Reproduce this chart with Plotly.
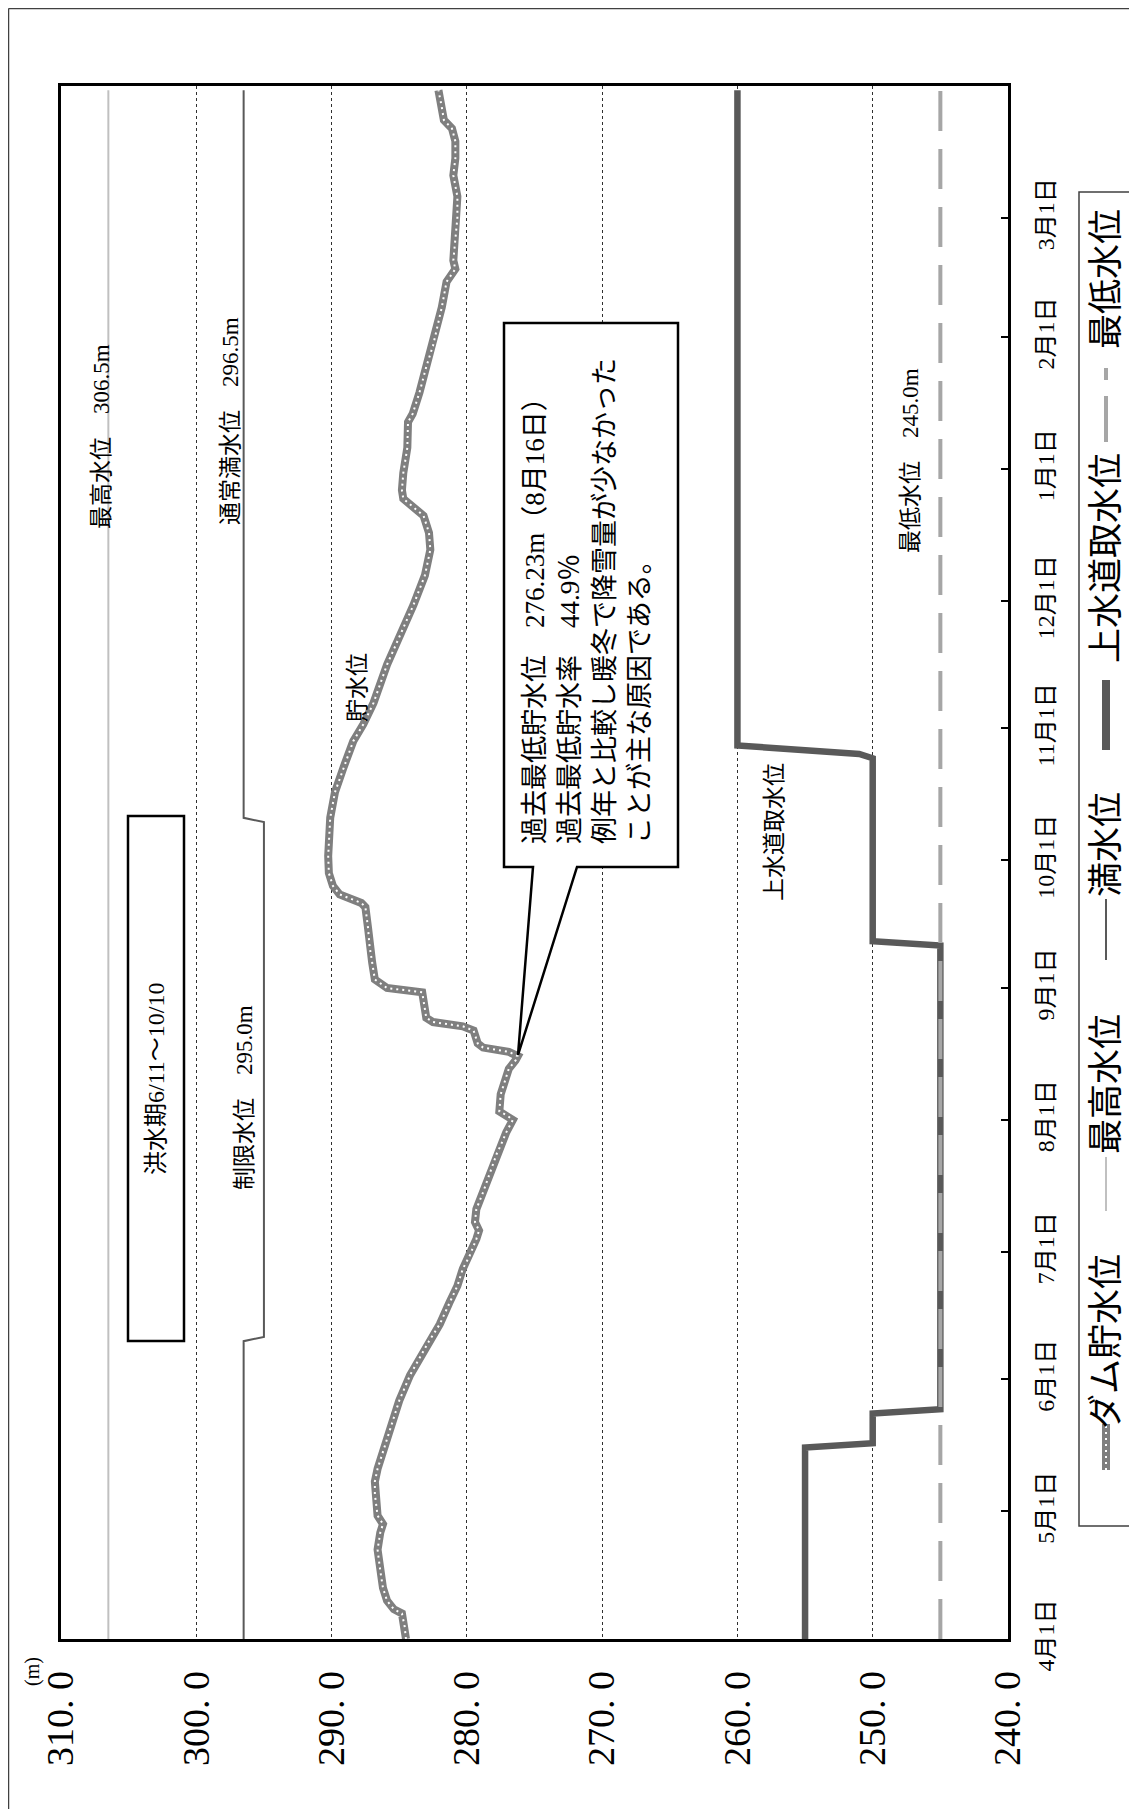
import plotly.graph_objects as go

# ---------------- data ----------------
storage_dates = [
    "2016-04-01", "2016-04-04", "2016-04-07", "2016-04-08", "2016-04-10", "2016-04-13", "2016-04-17",
    "2016-04-22", "2016-04-26", "2016-04-28", "2016-04-30", "2016-05-05", "2016-05-08", "2016-05-11",
    "2016-05-16", "2016-05-21", "2016-05-27", "2016-06-02", "2016-06-06", "2016-06-10", "2016-06-14",
    "2016-06-19", "2016-06-23", "2016-06-27", "2016-06-30", "2016-07-04", "2016-07-06", "2016-07-08",
    "2016-07-11", "2016-07-15", "2016-07-18", "2016-07-21", "2016-07-24", "2016-07-26", "2016-07-29",
    "2016-08-01", "2016-08-02", "2016-08-03", "2016-08-07", "2016-08-10", "2016-08-13", "2016-08-15",
    "2016-08-16", "2016-08-17", "2016-08-18", "2016-08-19", "2016-08-22", "2016-08-23", "2016-08-24",
    "2016-08-25", "2016-08-29", "2016-08-31", "2016-09-01", "2016-09-03", "2016-09-07", "2016-09-11",
    "2016-09-15", "2016-09-20", "2016-09-21", "2016-09-23", "2016-09-25", "2016-09-28", "2016-10-02",
    "2016-10-11", "2016-10-17", "2016-10-23", "2016-10-29", "2016-11-02", "2016-11-07", "2016-11-16",
    "2016-11-23", "2016-11-30", "2016-12-07", "2016-12-13", "2016-12-17", "2016-12-21", "2016-12-25",
    "2016-12-27", "2016-12-31", "2017-01-06", "2017-01-12", "2017-01-14", "2017-01-19", "2017-01-25",
    "2017-01-30", "2017-02-03", "2017-02-08", "2017-02-14", "2017-02-17", "2017-02-19", "2017-02-25",
    "2017-03-01", "2017-03-06", "2017-03-11", "2017-03-15", "2017-03-19", "2017-03-22", "2017-03-24",
    "2017-03-27", "2017-03-31",
]
storage_levels = [
    284.5, 284.6, 284.8, 285.4, 285.9, 286.2, 286.4,
    286.6, 286.4, 286.2, 286.6, 286.8, 286.8, 286.6,
    286.1, 285.6, 285.0, 284.2, 283.5, 282.8, 282.0,
    281.3, 280.7, 280.3, 279.8, 279.3, 279.1, 279.4,
    279.3, 278.8, 278.45, 278.1, 277.8, 277.5, 277.1,
    276.6, 277.0, 277.6, 277.5, 277.2, 276.9, 276.4,
    276.23, 276.9, 278.8, 279.2, 279.5, 280.3, 282.5,
    283.0, 283.2, 283.3, 285.9, 286.8, 287.0, 287.2,
    287.3, 287.5, 287.8, 289.4, 289.9, 290.2, 290.25,
    290.1, 289.75, 289.1, 288.4, 287.65, 286.9, 285.9,
    284.9, 283.95, 283.1, 282.7, 282.8, 283.2, 284.7,
    284.8, 284.7, 284.4, 284.35, 284.0, 283.5, 283.0,
    282.5, 282.2, 281.85, 281.5, 280.85, 281.0, 280.85,
    280.7, 280.7, 281.0, 280.85, 280.85, 281.1, 281.7,
    281.85, 282.1,
]

max_dates = ["2016-04-01", "2017-03-31"]
max_levels = [306.5, 306.5]

full_dates = ["2016-04-01", "2016-06-10", "2016-06-11", "2016-10-10", "2016-10-11", "2017-03-31"]
full_levels = [296.5, 296.5, 295.0, 295.0, 296.5, 296.5]

intake_dates = ["2016-04-01", "2016-05-16", "2016-05-17", "2016-05-24", "2016-05-25",
                "2016-09-11", "2016-09-12", "2016-10-25", "2016-10-26", "2016-10-28", "2017-03-31"]
intake_levels = [255, 255, 250, 250, 245, 245, 250, 250, 251, 260, 260]

min_dates = ["2016-04-01", "2017-03-31"]
min_levels = [245.0, 245.0]

level_ticks = [310, 300, 290, 280, 270, 260, 250, 240]
level_labels = ["310. 0", "300. 0", "290. 0", "280. 0", "270. 0", "260. 0", "250. 0", "240. 0"]

month_ticks = ["2016-04-01", "2016-05-01", "2016-06-01", "2016-07-01", "2016-08-01", "2016-09-01",
               "2016-10-01", "2016-11-01", "2016-12-01", "2017-01-01", "2017-02-01", "2017-03-01"]
month_labels = ["4月1日", "5月1日", "6月1日", "7月1日", "8月1日", "9月1日",
                "10月1日", "11月1日", "12月1日", "1月1日", "2月1日", "3月1日"]

legend_names = ["ダム貯水位", "最高水位", "満水位", "上水道取水位", "最低水位"]

# ---------------- styles ----------------
C_STORAGE = "#7f7f7f"
C_MAX = "#c0c0c0"
C_FULL = "#595959"
C_INTAKE = "#595959"
C_MIN = "#a6a6a6"
FONT = "Liberation Serif, Noto Sans CJK JP, serif"

# page geometry (the page body adds an 8px margin around the figure)
OFF = 8
PAGE_W, PAGE_H = 1137, 1809
W, H = PAGE_W - OFF, PAGE_H - OFF
PL, PR, PT, PB = 61, 1008, 86, 1639   # plot area in page pixels


def px(X):
    return (X - PL) / (PR - PL)


def py(Y):
    return (PB - Y) / (PB - PT)


fig = go.Figure()
fig.add_trace(go.Scatter(x=storage_levels, y=storage_dates, mode="lines",
                         line=dict(color=C_STORAGE, width=8), name=legend_names[0], hoverinfo="skip"))
fig.add_trace(go.Scatter(x=storage_levels, y=storage_dates, mode="lines",
                         line=dict(color="white", width=2, dash="2px,4px"), hoverinfo="skip"))
fig.add_trace(go.Scatter(x=max_levels, y=max_dates, mode="lines",
                         line=dict(color=C_MAX, width=2), name=legend_names[1]))
fig.add_trace(go.Scatter(x=full_levels, y=full_dates, mode="lines",
                         line=dict(color=C_FULL, width=2), name=legend_names[2]))
fig.add_trace(go.Scatter(x=intake_levels, y=intake_dates, mode="lines",
                         line=dict(color=C_INTAKE, width=6.5), name=legend_names[3]))
fig.add_trace(go.Scatter(x=min_levels, y=min_dates, mode="lines",
                         line=dict(color=C_MIN, width=4, dash="40px,18px"), name=legend_names[4]))

shapes = []
annotations = []


def label(text, X, Y, size, **kw):
    d = dict(text=text, x=px(X), y=py(Y), xref="paper", yref="paper", showarrow=False,
             textangle=-90, xanchor="center", yanchor="middle",
             font=dict(family=FONT, size=size, color="black"))
    d.update(kw)
    annotations.append(d)


# outer frame
shapes.append(dict(type="line", xref="paper", yref="paper", x0=px(8.5), x1=px(PAGE_W + 20), y0=py(8.5), y1=py(8.5),
                   line=dict(color="#404040", width=1.5)))
shapes.append(dict(type="line", xref="paper", yref="paper", x0=px(8.5), x1=px(8.5), y0=py(8.5), y1=py(PAGE_H + 20),
                   line=dict(color="#404040", width=1.5)))

# flood period box
shapes.append(dict(type="rect", xref="paper", yref="paper", x0=px(128), x1=px(184), y0=py(816), y1=py(1341),
                   line=dict(color="black", width=2.5), fillcolor="white"))
label("洪水期6/11～10/10", 156, 1079, 24)

# callout
tipx, tipy = px(518), py(1055)
path = (f"M {px(504)},{py(323)} L {px(678)},{py(323)} L {px(678)},{py(867)} L {px(577)},{py(867)} "
        f"L {tipx},{tipy} L {px(533)},{py(867)} L {px(504)},{py(867)} Z")
shapes.append(dict(type="path", xref="paper", yref="paper", path=path,
                   line=dict(color="black", width=2.5), fillcolor="white"))
label("過去最低貯水位　276.23m（8月16日）<br>過去最低貯水率　44.9％<br>例年と比較し暖冬で降雪量が少なかった<br>ことが主な原因である。",
      587, 601, 27, align="left")

# line labels
for t, X, Y in [
    ("最高水位　306.5m", 101, 437),
    ("通常満水位　296.5m", 231, 421),
    ("制限水位　295.0m", 244, 1098),
    ("貯水位", 357, 688),
    ("上水道取水位", 774, 832),
    ("最低水位　245.0m", 911, 461),
]:
    label(t, X, Y, 23)

# unit
label("(m)", 33, 1672, 20)

# legend (rotated, drawn manually)
shapes.append(dict(type="rect", xref="paper", yref="paper", x0=px(1079), x1=px(1133), y0=py(192), y1=py(1526),
                   line=dict(color="#404040", width=1.5), fillcolor="white"))
LX = 1106
leg_samples = [
    (1470, 1424, C_STORAGE, 8, None),
    (1211, 1157, C_MAX, 2, None),
    (960, 899, C_FULL, 2, None),
    (750, 680, C_INTAKE, 8, None),
    (442, 362, C_MIN, 4, "46px,16px,12px,60px"),
]
for y0, y1, c, w, d in leg_samples:
    ln = dict(color=c, width=w)
    if d:
        ln["dash"] = d
    shapes.append(dict(type="line", xref="paper", yref="paper", x0=px(LX), x1=px(LX), y0=py(y0), y1=py(y1),
                       line=ln))
shapes.append(dict(type="line", xref="paper", yref="paper", x0=px(LX), x1=px(LX), y0=py(1470), y1=py(1424),
                   line=dict(color="white", width=2, dash="2px,4px")))
for name, Y in zip(legend_names, [1342, 1084, 845, 558, 279]):
    label(name, LX, Y, 35)

fig.update_layout(
    width=W, height=H, autosize=False,
    margin=dict(l=PL - OFF, r=W - (PR - OFF), t=PT - OFF, b=H - (PB - OFF), pad=0),
    plot_bgcolor="white", paper_bgcolor="white", showlegend=False,
    xaxis=dict(range=[310, 240], tickmode="array", tickvals=level_ticks, ticktext=level_labels,
               tickangle=-90, tickfont=dict(family="Liberation Serif, serif", size=38, color="black"),
               showgrid=True, gridcolor="#303030", griddash="dot", gridwidth=1,
               showline=True, linecolor="black", linewidth=2.5, mirror=True, ticks="",
               zeroline=False, ticklabelstandoff=14),
    yaxis=dict(type="date", range=["2016-04-01", "2017-04-01"], side="right", tickmode="array",
               tickvals=month_ticks, ticktext=month_labels, tickangle=-90,
               ticks="inside", ticklen=7, tickwidth=1.5, tickcolor="black",
               showgrid=False, showline=True, linecolor="black", linewidth=2.5, mirror=True,
               zeroline=False, tickfont=dict(family=FONT, size=24, color="black"), ticklabelstandoff=14),
    shapes=shapes, annotations=annotations,
)

fig.write_html("out.html")
